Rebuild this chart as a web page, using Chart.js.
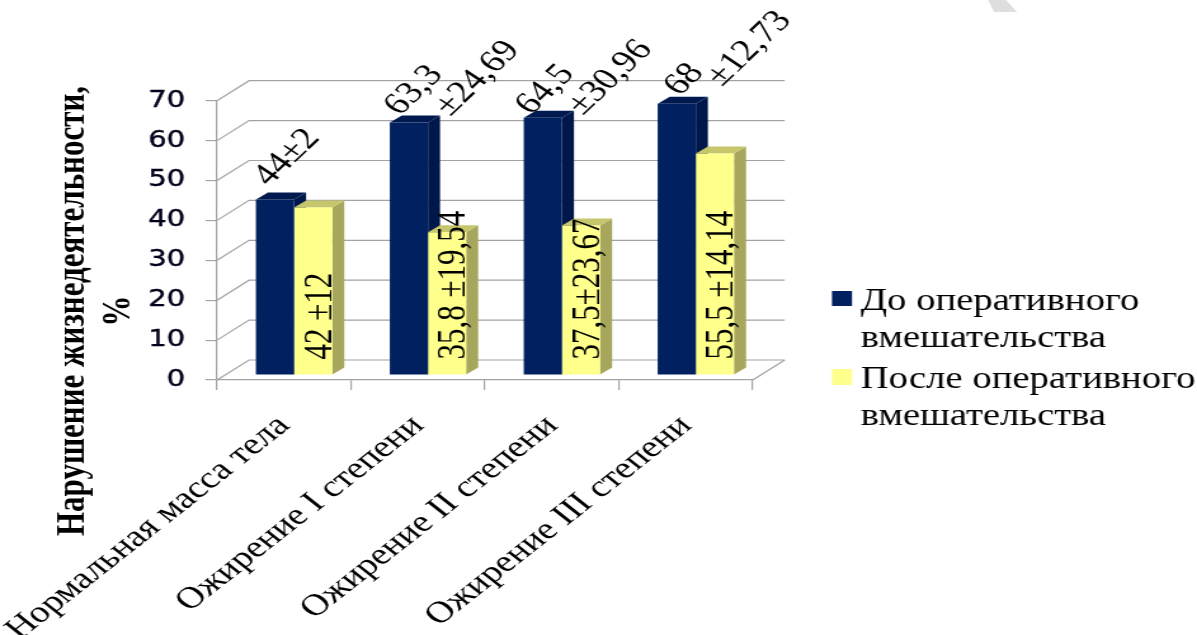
<!DOCTYPE html>
<html>
<head>
<meta charset="utf-8">
<script src="https://cdn.jsdelivr.net/npm/chart.js@4"></script>
<style>
  html, body { margin: 0; padding: 0; background: #fff; overflow: hidden; }
  /* the source picture is stretched sideways, so the whole canvas is too */
  #chart { position: absolute; left: 0; top: 0; transform-origin: 0 0; transform: scaleX(1.2694); }
</style>
</head>
<body>
<canvas id="chart" width="943" height="635"></canvas>
<script>
const categories = ["Нормальная масса тела", "Ожирение I степени", "Ожирение II степени", "Ожирение III степени"];
const seriesNames = ["До оперативного вмешательства", "После оперативного вмешательства"];
const before = [44, 63.3, 64.5, 68];
const after = [42, 35.8, 37.5, 55.5];
const beforeLabels = [["44±2"], ["63,3", "±24,69"], ["64,5", "±30,96"], ["68", "±12,73"]];
const afterLabels = ["42 ±12", "35,8 ±19,54", "37,5±23,67", "55,5 ±14,14"];
const yTitle = ["Нарушение жизнедеятельности,", "%"];

const S = 1.2694;
const serif = "'Liberation Serif'";

// 3d look
const wallDx = 25.2, wallDy = 20;
const barDx = 9.5, barDy = 7;
const barShiftX = 7.9, barShiftY = -5;
const gridColor = "#a3a3a3";
const faces = [
  { front: "#002060", top: "#001a50", side: "#00174a" },
  { front: "#ffff8b", top: "#c6c66c", side: "#a6a65c" }
];

// where the rotated labels of the first series sit, from the top of the bar
const beforeOffsets = [
  [[9.5, -42]],
  [[4, -32], [54, -44]],
  [[2, -28], [53, -40]],
  [[6, -24], [57, -55]]
];

function poly(ctx, pts, color) {
  ctx.fillStyle = color;
  ctx.beginPath();
  pts.forEach(function (p, i) { i ? ctx.lineTo(p[0], p[1]) : ctx.moveTo(p[0], p[1]); });
  ctx.closePath();
  ctx.fill();
}

function rotated(ctx, text, x, y, angle, font, align, baseline) {
  ctx.save();
  ctx.translate(x, y);
  ctx.rotate(angle);
  ctx.font = font;
  ctx.fillStyle = "#000";
  ctx.textAlign = align;
  ctx.textBaseline = baseline;
  ctx.fillText(text, 0, 0);
  ctx.restore();
}

function drawFaces(chart, index) {
  const ctx = chart.ctx, f = faces[index];
  chart.getDatasetMeta(index).data.forEach(function (el) {
    const l = el.x - el.width / 2, r = el.x + el.width / 2;
    poly(ctx, [[r, el.y], [r + barDx, el.y - barDy], [r + barDx, el.base - barDy], [r, el.base]], f.side);
    poly(ctx, [[l, el.y], [l + barDx, el.y - barDy], [r + barDx, el.y - barDy], [r, el.y]], f.top);
  });
}

const bars3d = {
  id: "bars3d",
  beforeDatasetsDraw(chart) {
    // grid lines run along the side wall, then along the back wall
    const ctx = chart.ctx, y = chart.scales.y, a = chart.chartArea;
    ctx.save();
    ctx.strokeStyle = gridColor;
    ctx.lineWidth = 1.2;
    y.ticks.forEach(function (t) {
      const py = y.getPixelForValue(t.value);
      ctx.beginPath();
      ctx.moveTo(a.left, py);
      ctx.lineTo(a.left + wallDx, py - wallDy);
      ctx.lineTo(a.right + wallDx, py - wallDy);
      ctx.stroke();
    });
    const py0 = y.getPixelForValue(0);
    ctx.beginPath();
    ctx.moveTo(a.right, py0);
    ctx.lineTo(a.right + wallDx, py0 - wallDy);
    ctx.stroke();
    ctx.restore();
  },
  // the library draws the last dataset first, so yellow goes down before the blue fronts
  beforeDatasetDraw(chart, args) {
    const ctx = chart.ctx;
    ctx.save();
    ctx.translate(barShiftX, barShiftY);
    if (args.index === 1) {
      drawFaces(chart, 0);
      drawFaces(chart, 1);
    }
  },
  afterDatasetDraw(chart) {
    chart.ctx.restore();
  },
  afterDatasetsDraw(chart) {
    const ctx = chart.ctx;
    chart.getDatasetMeta(0).data.forEach(function (el, i) {
      beforeLabels[i].forEach(function (line, j) {
        const o = beforeOffsets[i][j];
        rotated(ctx, line, el.x + barShiftX + o[0], el.y + barShiftY + o[1], -50 * Math.PI / 180, "31px " + serif, "center", "middle");
      });
    });
    chart.getDatasetMeta(1).data.forEach(function (el, i) {
      rotated(ctx, afterLabels[i], el.x + barShiftX + el.width / 2 - 1, el.base + barShiftY - 15, -Math.PI / 2, "31px " + serif, "left", "alphabetic");
    });
  },
  afterDraw(chart) {
    const ctx = chart.ctx;
    // y title
    rotated(ctx, yTitle[0], 66, 311, -Math.PI / 2, "bold 31px " + serif, "center", "alphabetic");
    rotated(ctx, yTitle[1], 102, 311, -Math.PI / 2, "bold 31px " + serif, "center", "alphabetic");

    // legend
    ctx.fillStyle = faces[0].front;
    ctx.fillRect(655.4, 291, 15.8, 15);
    ctx.fillStyle = faces[1].front;
    ctx.fillRect(655.4, 369, 15.8, 16);
    ctx.fillStyle = "#000";
    ctx.font = "30.5px " + serif;
    ctx.textAlign = "left";
    ctx.textBaseline = "alphabetic";
    ctx.fillText("До оперативного", 678, 310);
    ctx.fillText("вмешательства", 678, 347);
    ctx.fillText("После оперативного", 678, 388);
    ctx.fillText("вмешательства", 678, 425);

    // grey corner of the watermark
    poly(ctx, [[988 / S, 0], [1006 / S, 0], [1017 / S, 12], [994 / S, 12]], "#dedede");
  }
};

new Chart(document.getElementById("chart"), {
  type: "bar",
  data: {
    labels: categories,
    datasets: [
      { label: seriesNames[0], data: before, backgroundColor: faces[0].front, clip: false },
      { label: seriesNames[1], data: after, backgroundColor: faces[1].front, clip: false }
    ]
  },
  options: {
    responsive: false,
    animation: false,
    devicePixelRatio: 1,
    events: [],
    categoryPercentage: 0.57,
    barPercentage: 1,
    layout: { padding: { top: 100.7, right: 350, left: 0, bottom: 0 } },
    plugins: { legend: { display: false }, title: { display: false }, tooltip: { enabled: false } },
    scales: {
      x: {
        grid: { drawOnChartArea: false, color: gridColor, tickLength: 10, offset: true, lineWidth: 1.2 },
        border: { color: gridColor, width: 1.2 },
        ticks: {
          autoSkip: false,
          minRotation: 45,
          maxRotation: 45,
          padding: 18,
          color: "#000",
          font: { family: serif, size: 30.5 }
        },
        afterFit(scale) {
          scale.height = 255;
          scale.paddingLeft = 0;
          scale.paddingRight = 0;
        }
      },
      y: {
        min: 0,
        max: 70,
        grid: { drawOnChartArea: false, color: gridColor, tickLength: 9, lineWidth: 1.2 },
        border: { color: gridColor, width: 1.2 },
        ticks: {
          stepSize: 10,
          padding: 16,
          color: "#00001a",
          textStrokeColor: "#00001a",
          textStrokeWidth: 0.4,
          font: { family: "'DejaVu Sans'", size: 23 }
        },
        afterFit(scale) {
          scale.width = 171;
          scale.paddingTop = 0;
          scale.paddingBottom = 0;
        }
      }
    }
  },
  plugins: [bars3d]
});
</script>
</body>
</html>
